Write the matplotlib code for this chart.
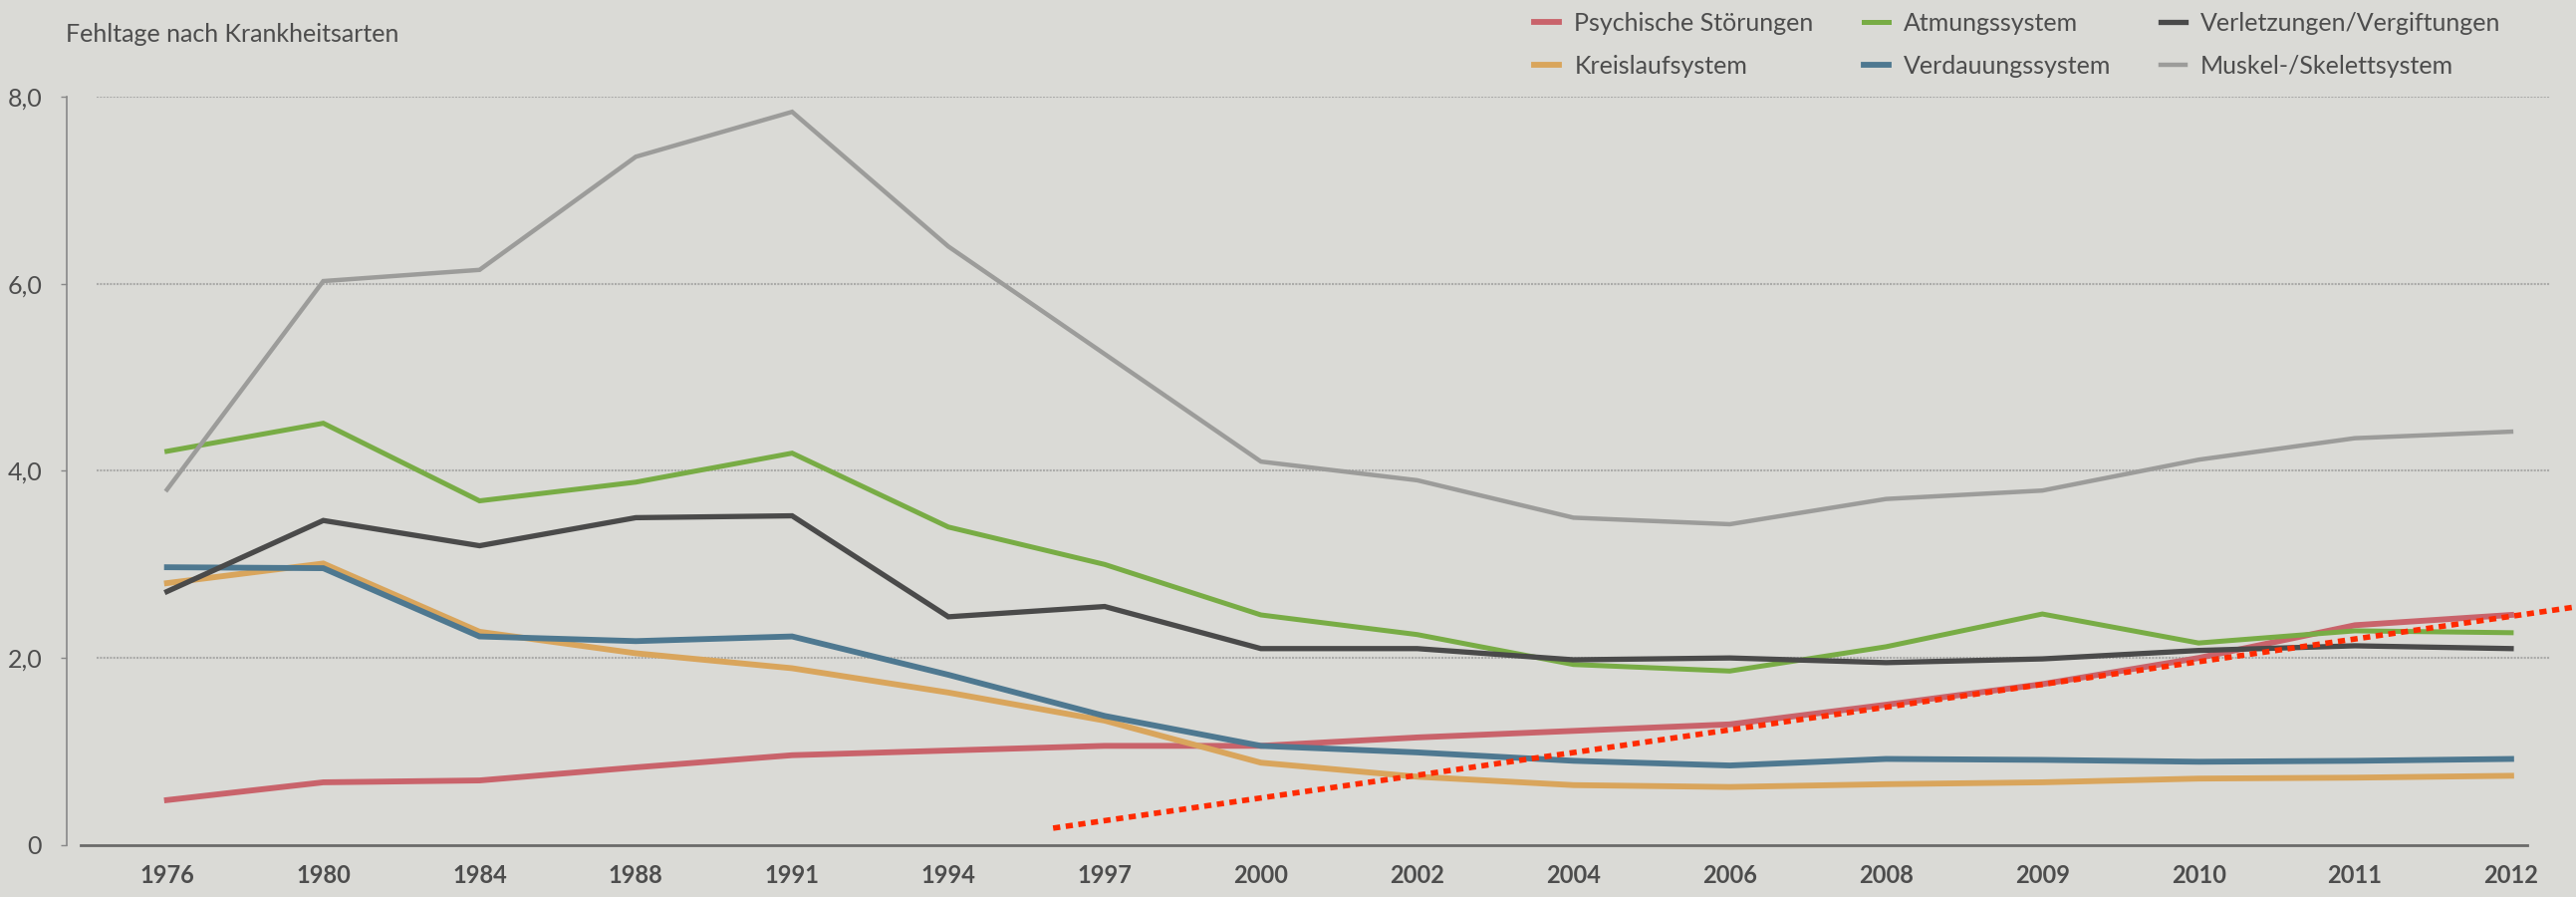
import matplotlib.pyplot as plt

# Fehltage nach Krankheitsarten (Zeitungsgrafik)
years = ['1976', '1980', '1984', '1988', '1991', '1994', '1997', '2000',
         '2002', '2004', '2006', '2008', '2009', '2010', '2011', '2012']

psychische = [0.48, 0.67, 0.69, 0.83, 0.96, 1.01, 1.06, 1.06,
              1.15, 1.22, 1.29, 1.50, 1.72, 2.00, 2.35, 2.46]
kreislauf = [2.80, 3.01, 2.28, 2.05, 1.89, 1.63, 1.33, 0.88,
             0.73, 0.64, 0.62, 0.65, 0.67, 0.71, 0.72, 0.74]
atmung = [4.21, 4.51, 3.68, 3.88, 4.19, 3.40, 3.00, 2.46,
          2.25, 1.93, 1.86, 2.12, 2.47, 2.16, 2.29, 2.27]
verdauung = [2.97, 2.96, 2.23, 2.18, 2.23, 1.82, 1.38, 1.06,
             0.99, 0.90, 0.85, 0.92, 0.91, 0.89, 0.90, 0.92]
verletzung = [2.71, 3.47, 3.20, 3.50, 3.52, 2.44, 2.55, 2.10,
              2.10, 1.98, 2.00, 1.95, 1.99, 2.08, 2.13, 2.10]
muskel = [3.80, 6.03, 6.15, 7.36, 7.84, 6.40, 5.25, 4.10,
          3.90, 3.50, 3.43, 3.70, 3.79, 4.12, 4.35, 4.42]

# nachträglich eingezeichnete rote Trendlinie (in Achsen-Datenkoordinaten)
trend_x = [5.67, 15.43]
trend_y = [0.18, 2.55]

paper = '#dadad6'
text_col = '#4d4d4d'
plt.rcParams['font.family'] = ['Lato', 'DejaVu Sans']

fig = plt.figure(figsize=(25.86, 9), dpi=100, facecolor=paper)
ax = fig.add_axes([0.026, 0.058, 0.964, 0.834], facecolor=paper)

x = list(range(len(years)))
series = [
    ('Psychische Störungen', psychische, '#c9636b', 4.2),
    ('Kreislaufsystem', kreislauf, '#d9a55c', 4.2),
    ('Atmungssystem', atmung, '#78ac45', 3.6),
    ('Verdauungssystem', verdauung, '#4e7890', 4.2),
    ('Verletzungen/Vergiftungen', verletzung, '#4a4a4a', 3.8),
    ('Muskel-/Skelettsystem', muskel, '#9c9c9a', 3.2),
]
handles = []
for name, vals, col, lw in series:
    ln, = ax.plot(x, vals, color=col, lw=lw, label=name, clip_on=False,
                  solid_joinstyle='miter', zorder=3)
    handles.append(ln)

ax.plot(trend_x, trend_y, color='#ff2a00', lw=4, linestyle=(0, (1.3, 1.0)),
        clip_on=False, zorder=5)

ax.set_xlim(-0.64, 15.25)
ax.set_ylim(0, 8)
ax.set_yticks([0, 2, 4, 6, 8])
ax.set_yticklabels(['0', '2,0', '4,0', '6,0', '8,0'], fontsize=18, color=text_col)
ax.set_xticks(x)
ax.set_xticklabels(years, fontsize=17, color=text_col, fontweight='bold')
ax.tick_params(axis='y', length=4, width=1, color='#888888', pad=14)
ax.tick_params(axis='x', length=0, pad=14)

for v in [2, 4, 6, 8]:
    ax.axhline(v, xmin=0.012, xmax=1.0, color='#ababa9', lw=1.5,
               linestyle=(0, (1, 0.6)), zorder=1)

for s in ['top', 'right']:
    ax.spines[s].set_visible(False)
ax.spines['left'].set_color('#888888')
ax.spines['left'].set_linewidth(1.2)
ax.spines['bottom'].set_color('#6a6a6a')
ax.spines['bottom'].set_linewidth(2)
ax.spines['bottom'].set_bounds(-0.55, 15.1)

fig.text(0.0255, 0.975, 'Fehltage nach Krankheitsarten', fontsize=18,
         color=text_col, va='top', ha='left')

fig.legend(handles=handles, ncol=3, loc='upper left',
           bbox_to_anchor=(0.587, 1.012), frameon=False, fontsize=18,
           handlelength=1.0, handletextpad=0.6, columnspacing=2.0,
           labelspacing=0.8, labelcolor=text_col)

fig.savefig('out.png', dpi=100, facecolor=paper)
